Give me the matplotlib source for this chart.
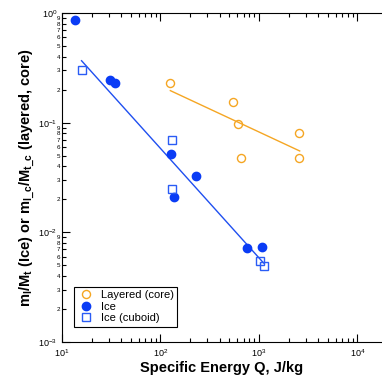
import math
import matplotlib
matplotlib.use("Agg")
import matplotlib.pyplot as plt
from matplotlib.ticker import LogLocator, FuncFormatter, NullFormatter

plt.rcParams['font.family'] = ['Liberation Sans', 'DejaVu Sans']
plt.rcParams['mathtext.fontset'] = 'custom'
plt.rcParams['mathtext.rm'] = 'Liberation Sans'
plt.rcParams['mathtext.bf'] = 'Liberation Sans:bold'

# layered (core)
layered_q = [124, 541, 607, 651, 2576, 2576]
layered_m = [0.23, 0.155, 0.097, 0.048, 0.080, 0.048]
layered_fit_q = [126, 2594]
layered_fit_m = [0.196, 0.0552]

# ice
ice_q = [13.5, 30.6, 34.4, 127, 136, 228, 748, 1087]
ice_m = [0.86, 0.245, 0.23, 0.052, 0.021, 0.0327, 0.0072, 0.0073]

# ice (cuboid)
cub_q = [16, 130, 130, 1014, 1114]
cub_m = [0.30, 0.0696, 0.0249, 0.0055, 0.0049]
ice_fit_q = [15.8, 1114]
ice_fit_m = [0.367, 0.00526]

orange = '#f5a623'
blue = '#0a3cf5'

fig = plt.figure(figsize=(3.82, 3.78), dpi=100)
ax = fig.add_axes([62/382, 36/378, 320/382, 329/378])

ax.plot(layered_fit_q, layered_fit_m, color=orange, lw=1)
ax.plot(ice_fit_q, ice_fit_m, color='#1f4ff0', lw=1)
ax.plot(layered_q, layered_m, 'o', mfc='none', mec=orange, mew=1.0, ms=5.8,
        label='Layered (core)')
ax.plot(ice_q, ice_m, 'o', color=blue, ms=6, label='Ice')
ax.plot(cub_q, cub_m, 's', mfc='none', mec='#2a5cf5', mew=1.0, ms=5.8,
        label='Ice (cuboid)')

ax.set_xscale('log')
ax.set_yscale('log')
ax.set_xlim(10, 10**4.25)
ax.set_ylim(1e-3, 1)

ax.spines['right'].set_visible(False)
ax.tick_params(which='both', direction='in', top=True, right=False,
               labelsize=6.5, width=0.8)
ax.tick_params(which='major', length=6)
ax.tick_params(which='minor', length=3)
ax.tick_params(axis='y', which='minor', labelsize=4.5, pad=1.5)


def major_lab(v, p):
    return r'$10^{%d}$' % round(math.log10(v))


def minor_lab(v, p):
    d = v / 10**math.floor(math.log10(v) + 1e-9)
    return '%d' % round(d)


ax.xaxis.set_major_formatter(FuncFormatter(major_lab))
ax.yaxis.set_major_formatter(FuncFormatter(major_lab))
ax.xaxis.set_minor_formatter(NullFormatter())
ax.yaxis.set_minor_locator(LogLocator(base=10, subs=range(2, 10)))
ax.yaxis.set_minor_formatter(FuncFormatter(minor_lab))

ax.set_xlabel('Specific Energy Q, J/kg', fontsize=10.5, fontweight='bold',
              labelpad=2)
ax.set_ylabel(r'm$_\mathbf{l}$/M$_\mathbf{t}$ (Ice) or m$_\mathbf{l\_c}$/M$_\mathbf{t\_c}$ (layered, core)',
              fontsize=10.5, fontweight='bold', labelpad=1)

leg = ax.legend(loc='lower left', bbox_to_anchor=(0.02, 0.03), fontsize=8,
                fancybox=False, edgecolor='black', framealpha=1,
                handletextpad=0.6, borderpad=0.3, labelspacing=0.15,
                handlelength=1.5)
leg.get_frame().set_linewidth(0.8)

fig.savefig('out.png', dpi=100)
